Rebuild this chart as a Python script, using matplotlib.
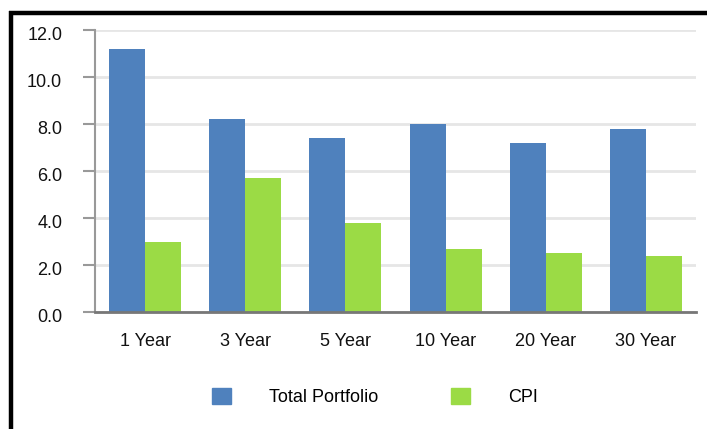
import matplotlib.pyplot as plt
import matplotlib.transforms as mtransforms
from matplotlib.patches import Rectangle
from matplotlib.lines import Line2D
import numpy as np

plt.rcParams['font.family'] = ['Liberation Sans', 'DejaVu Sans']
plt.rcParams.update({'font.size': 13})

# Annualized returns (%)
periods = ['1 Year', '3 Year', '5 Year', '10 Year', '20 Year', '30 Year']
total_portfolio = [11.2, 8.2, 7.4, 8.0, 7.2, 7.8]
cpi = [3.0, 5.7, 3.8, 2.7, 2.5, 2.4]
series_names = ['Total Portfolio', 'CPI']
yticks = [0, 2, 4, 6, 8, 10, 12]

blue = '#4F81BD'
green = '#9BDB45'

fig = plt.figure(figsize=(7.07, 4.29), dpi=100)
ax = fig.add_axes([95 / 707, 1 - 312 / 429, 601 / 707, 282 / 429])

x = np.arange(len(periods))
w = 0.36
ax.bar(x - w / 2, total_portfolio, width=w, color=blue, zorder=3)
ax.bar(x + w / 2, cpi, width=w, color=green, zorder=3)

ax.set_xlim(-0.5, len(periods) - 0.5)
ax.set_ylim(0, 12)
ax.set_yticks(yticks)
ax.set_yticklabels([f'{v:.1f}' for v in yticks])
ax.set_xticks(x)
ax.set_xticklabels(periods)

ax.grid(axis='y', color='#E6E6E6', linewidth=2, zorder=0)
for s in ['top', 'right']:
    ax.spines[s].set_visible(False)
ax.spines['left'].set_color('#999999')
ax.spines['left'].set_linewidth(1.5)
ax.spines['bottom'].set_color('#777777')
ax.spines['bottom'].set_linewidth(2)
ax.spines['bottom'].set_zorder(4)

ax.tick_params(axis='y', length=8.6, width=1.5, color='#999999', pad=15, labelcolor='#111111')
ax.tick_params(axis='x', length=0, pad=15, labelcolor='#111111')

# y labels sit a few pixels below their gridlines in the original
shift = mtransforms.ScaledTranslation(0, -3.5 / 100, fig.dpi_scale_trans)
for lab in ax.get_yticklabels():
    lab.set_transform(lab.get_transform() + shift)

handles = [Rectangle((0, 0), 1, 1, color=blue), Rectangle((0, 0), 1, 1, color=green)]
ax.legend(handles, series_names, loc='center', bbox_to_anchor=(375 / 707, 1 - 397 / 429),
          bbox_transform=fig.transFigure, ncol=2, frameon=False,
          handlelength=1.05, handleheight=1.05, handletextpad=2.1, columnspacing=4.0,
          borderaxespad=0, fontsize=13)

# black frame on top and left edge
fig.add_artist(Line2D([9 / 707, 1], [1 - 13 / 429, 1 - 13 / 429], color='black', linewidth=3.2,
                      transform=fig.transFigure, solid_capstyle='butt'))
fig.add_artist(Line2D([11 / 707, 11 / 707], [0, 1 - 11 / 429], color='black', linewidth=3.2,
                      transform=fig.transFigure, solid_capstyle='butt'))

fig.savefig('out.png', dpi=100)
